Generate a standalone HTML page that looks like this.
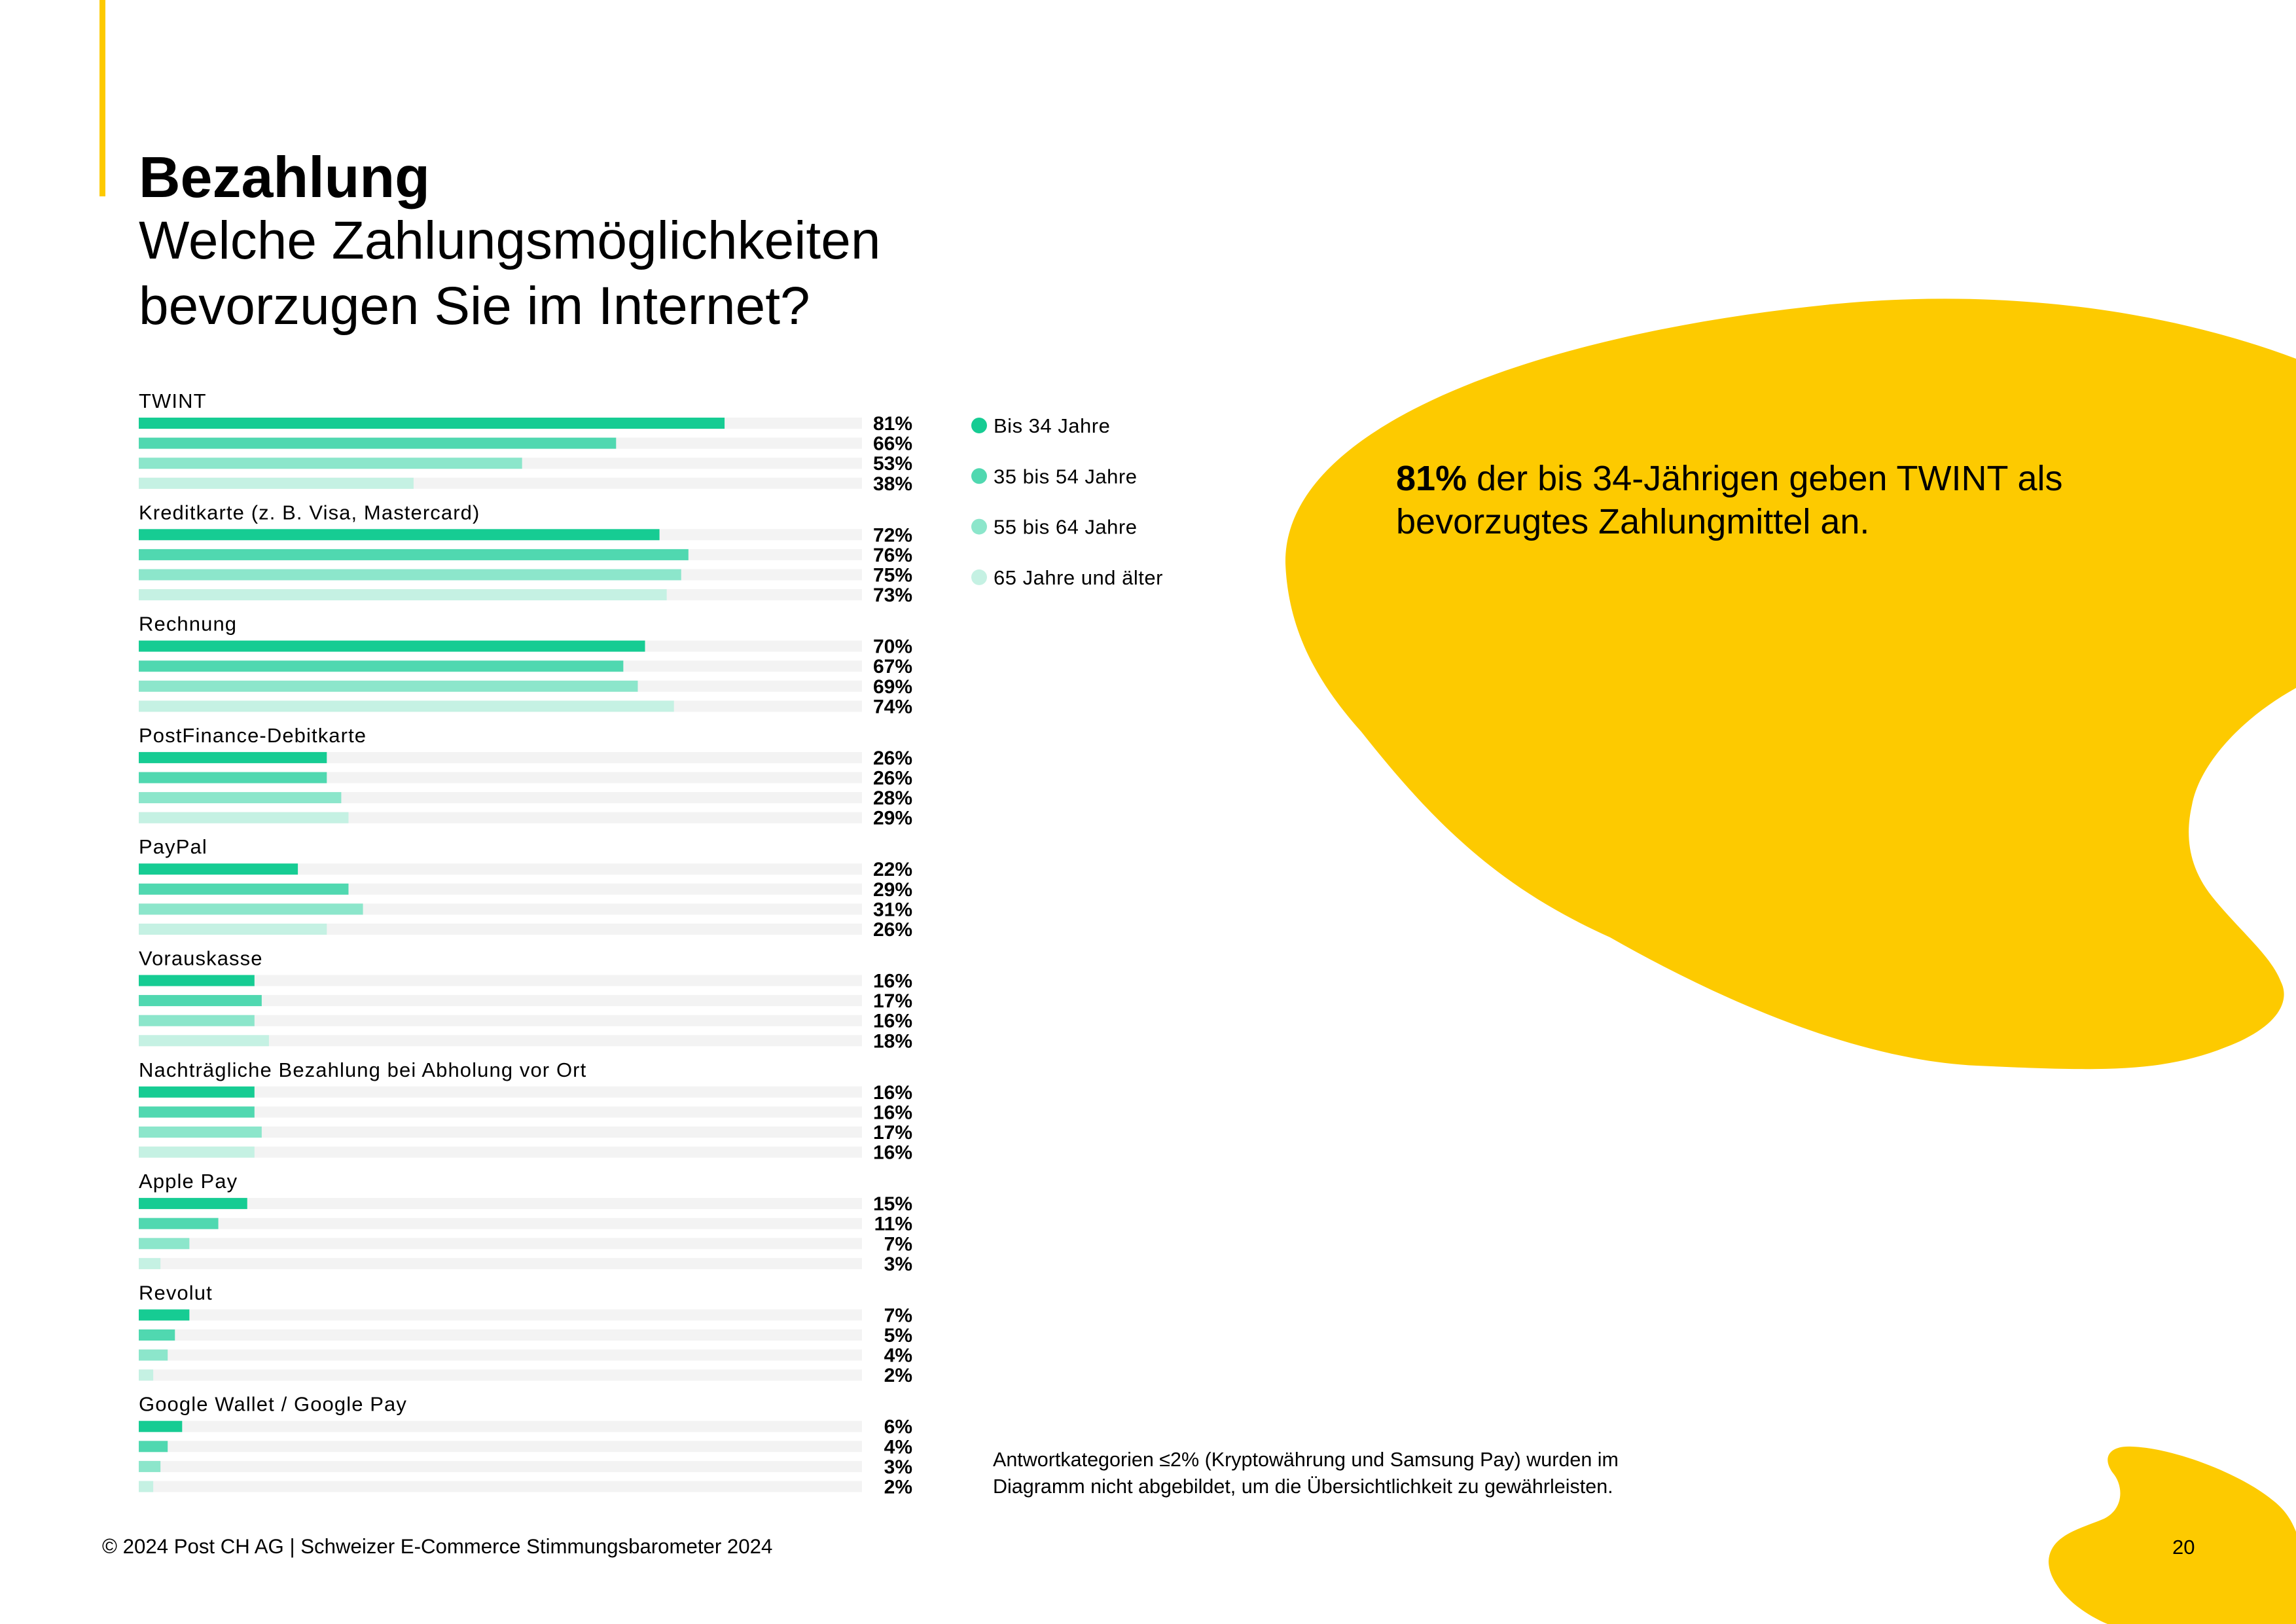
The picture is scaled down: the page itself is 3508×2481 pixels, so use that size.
<!DOCTYPE html>
<html><head><meta charset="utf-8">
<style>
html,body{margin:0;padding:0;background:#fff;}
#page{position:relative;width:3508px;height:2481px;overflow:hidden;font-family:"Liberation Sans",sans-serif;color:#000;}
.abs{position:absolute;white-space:nowrap;}
</style></head>
<body>
<div id="page">
<svg class="abs" style="left:0;top:0" width="3508" height="2481">
  <path fill="#fdca00"
   d="M3508,548 C3300,470 3050,440 2797,465 C2350,510 1960,650 1964,861 C1968,960 2010,1040 2080,1118 C2200,1270 2300,1360 2460,1432 C2650,1540 2850,1620 3020,1628 C3200,1636 3300,1640 3400,1600 C3480,1570 3500,1530 3485,1500 C3470,1460 3420,1420 3380,1370 C3340,1320 3340,1270 3349,1230 C3360,1170 3420,1100 3508,1051 Z"/>
  <path fill="#fdca00"
   d="M3257,2210 C3320,2212 3420,2250 3470,2290 C3490,2305 3500,2320 3508,2340 L3508,2481 L3220,2481 C3170,2460 3130,2420 3130,2385 C3132,2345 3180,2335 3215,2320 C3245,2305 3245,2270 3228,2250 C3210,2225 3225,2208 3257,2210 Z"/>
  <rect x="152" y="0" width="9" height="300" fill="#fdca00"/>
</svg>

<div class="abs" style="left:212px;top:220px;font-size:88px;font-weight:bold;">Bezahlung</div>
<div class="abs" style="left:212px;top:318px;font-size:82px;line-height:100px;white-space:normal;width:1400px;">Welche Zahlungsmöglichkeiten<br>bevorzugen Sie im Internet?</div>

<svg id="chart" class="abs" style="left:0;top:0" width="3508" height="2481"></svg>

<div class="abs" style="left:2133px;top:698px;font-size:54px;line-height:66px;"><b>81%</b> der bis 34-Jährigen geben TWINT als<br>bevorzugtes Zahlungmittel an.</div>

<div class="abs" style="left:1517px;top:2210px;font-size:30.5px;line-height:41px;">Antwortkategorien ≤2% (Kryptowährung und Samsung Pay) wurden im<br>Diagramm nicht abgebildet, um die Übersichtlichkeit zu gewährleisten.</div>
<div class="abs" style="left:156px;top:2345px;font-size:31.2px;">© 2024 Post CH AG | Schweizer E-Commerce Stimmungsbarometer 2024</div>
<div class="abs" style="left:3319px;top:2346px;font-size:31px;">20</div>
</div>
<script>
const categories = ["TWINT","Kreditkarte (z. B. Visa, Mastercard)","Rechnung","PostFinance-Debitkarte","PayPal","Vorauskasse","Nachträgliche Bezahlung bei Abholung vor Ort","Apple Pay","Revolut","Google Wallet / Google Pay"];
const seriesNames = ["Bis 34 Jahre","35 bis 54 Jahre","55 bis 64 Jahre","65 Jahre und älter"];
const s1 = [81,72,70,26,22,16,16,15,7,6];
const s2 = [66,76,67,26,29,17,16,11,5,4];
const s3 = [53,75,69,28,31,16,17,7,4,3];
const s4 = [38,73,74,29,26,18,16,3,2,2];
const series = [s1,s2,s3,s4];
const colors = ["#16cc93","#50d8b0","#8ce6cb","#c5f1e3"];

const NS = "http://www.w3.org/2000/svg";
const svg = document.getElementById("chart");
const x0 = 212, trackW = 1105, groupY0 = 638, groupPitch = 170.3, barPitch = 30.6, barH = 17;
function xScale(v){ return trackW * v / 100; }
function mk(tag, attrs){ const e = document.createElementNS(NS, tag); for (const k in attrs) e.setAttribute(k, attrs[k]); return e; }

categories.forEach((cat, g) => {
  const gy = groupY0 + g * groupPitch;
  const t = mk("text", {x: x0, y: gy - 15, "font-size": 31, "letter-spacing": 1.1, "font-family": "Liberation Sans, sans-serif", fill: "#000"});
  
  
  t.textContent = cat;
  svg.appendChild(t);
  series.forEach((s, i) => {
    const y = gy + i * barPitch;
    const tr = mk("rect", {x: x0, y: y, width: trackW, height: barH, fill: "#f3f3f3"});
    
    
    svg.appendChild(tr);
    const b = mk("rect", {x: x0, y: y, width: xScale(s[g]), height: barH, fill: colors[i]});
    
    
    svg.appendChild(b);
    const v = mk("text", {x: 1394, y: y + barH + 2, "font-size": 30, "font-weight": "bold", "text-anchor": "end", "font-family": "Liberation Sans, sans-serif", fill: "#000"});
    
    
    v.textContent = s[g] + "%";
    svg.appendChild(v);
  });
});

seriesNames.forEach((n, i) => {
  const cy = 650 + i * 77.3;
  const c = mk("circle", {cx: 1496, cy: cy, r: 12, fill: colors[i]});
  
  
  svg.appendChild(c);
  const t = mk("text", {x: 1518, y: cy + 11, "font-size": 31, "letter-spacing": 0.5, "font-family": "Liberation Sans, sans-serif", fill: "#000"});
  
  
  t.textContent = n;
  svg.appendChild(t);
});
</script>
</body></html>
